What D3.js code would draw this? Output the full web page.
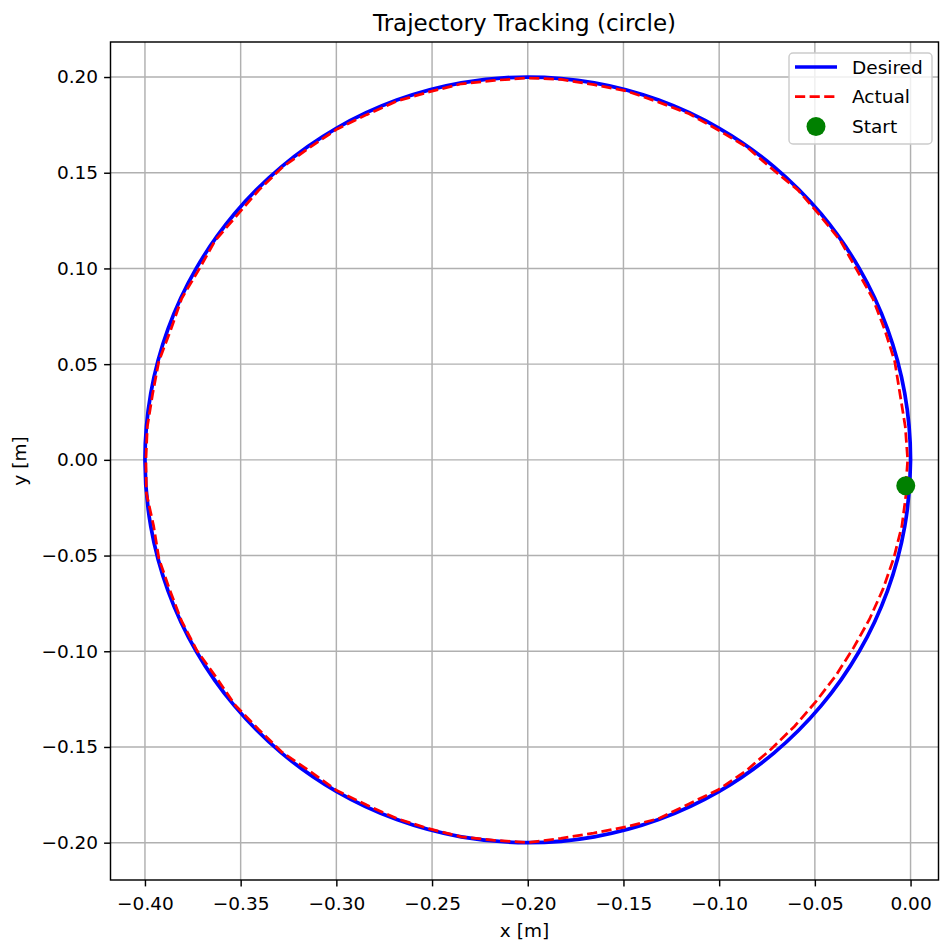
<!DOCTYPE html>
<html>
<head>
<meta charset="utf-8">
<script src="https://cdn.jsdelivr.net/npm/d3@7"></script>
<style>
  html, body { margin: 0; padding: 0; background: #ffffff; }
  svg { display: block; font-family: "DejaVu Sans", sans-serif; }
</style>
</head>
<body>
<svg id="chart" width="940" height="943"></svg>
<script>
// Reference circle (centre -0.2, 0; radius 0.2), sampled every 10 degrees
const desiredX = [0.0, -0.00304, -0.01206, -0.02679, -0.04679, -0.07144, -0.1, -0.1316, -0.16527,
  -0.2, -0.23473, -0.2684, -0.3, -0.32856, -0.35321, -0.37321, -0.38794, -0.39696,
  -0.4, -0.39696, -0.38794, -0.37321, -0.35321, -0.32856, -0.3, -0.2684, -0.23473,
  -0.2, -0.16527, -0.1316, -0.1, -0.07144, -0.04679, -0.02679, -0.01206, -0.00304];
const desiredY = [0.0, 0.03473, 0.0684, 0.1, 0.12856, 0.15321, 0.17321, 0.18794, 0.19696,
  0.2, 0.19696, 0.18794, 0.17321, 0.15321, 0.12856, 0.1, 0.0684, 0.03473,
  0.0, -0.03473, -0.0684, -0.1, -0.12856, -0.15321, -0.17321, -0.18794, -0.19696,
  -0.2, -0.19696, -0.18794, -0.17321, -0.15321, -0.12856, -0.1, -0.0684, -0.03473];

// Measured end-effector path
const actualX = [-0.00248, -0.0015, -0.00275, -0.0055, -0.00826, -0.01347, -0.01964, -0.02809, -0.03658,
  -0.04756, -0.05893, -0.07241, -0.08557, -0.1005, -0.11569, -0.13194, -0.14837, -0.16544, -0.18261,
  -0.2, -0.21734, -0.23464, -0.25151, -0.26823, -0.2841, -0.29975, -0.31414, -0.32824, -0.34071,
  -0.35206, -0.36342, -0.37191, -0.38081, -0.38653, -0.3927, -0.39598, -0.39874, -0.3995, -0.39924,
  -0.39548, -0.3927, -0.387, -0.38081, -0.37277, -0.3626, -0.35282, -0.34071, -0.32824, -0.31386,
  -0.29975, -0.2841, -0.26823, -0.25163, -0.23473, -0.21739, -0.2, -0.1827, -0.16562, -0.14862,
  -0.13177, -0.11611, -0.1005, -0.08614, -0.07305, -0.0607, -0.04947, -0.03904, -0.02983, -0.02146,
  -0.01441, -0.00875, -0.00452, -0.00226];
const actualY = [-0.01381, 0.0, 0.01726, 0.0343, 0.05138, 0.06789, 0.0841, 0.09925, 0.11443,
  0.12792, 0.14107, 0.15206, 0.16342, 0.17234, 0.18081, 0.187, 0.1927, 0.19598, 0.19874,
  0.1995, 0.19824, 0.19647, 0.19222, 0.18747, 0.18036, 0.17277, 0.16301, 0.15282, 0.14071,
  0.12759, 0.11443, 0.09925, 0.08431, 0.06789, 0.05163, 0.03456, 0.01739, 0.0, -0.01743,
  -0.03447, -0.05163, -0.06806, -0.08431, -0.09975, -0.11386, -0.12824, -0.14071, -0.15282, -0.1626,
  -0.17277, -0.18036, -0.18747, -0.1927, -0.19696, -0.19874, -0.2, -0.19774, -0.19499, -0.19174,
  -0.18747, -0.1799, -0.17234, -0.1626, -0.15129, -0.1393, -0.12631, -0.11271, -0.09825, -0.08326,
  -0.06755, -0.05125, -0.03447, -0.0173];

// First recorded position
const startX = [-0.0025];
const startY = [-0.0135];

const xTicks = [-0.40, -0.35, -0.30, -0.25, -0.20, -0.15, -0.10, -0.05, 0.00];
const yTicks = [-0.20, -0.15, -0.10, -0.05, 0.00, 0.05, 0.10, 0.15, 0.20];
const legendLabels = ["Desired", "Actual", "Start"];

const fmt = v => (v < -1e-9 ? "\u2212" : "") + Math.abs(v).toFixed(2);

const plot = { left: 110.5, right: 938.5, top: 42, bottom: 880 };

const x = d3.scaleLinear().domain([-0.418, 0.0146]).range([plot.left, plot.right]);
const y = d3.scaleLinear().domain([-0.2195, 0.2183]).range([plot.bottom, plot.top]);

const svg = d3.select("#chart");

svg.append("defs").append("clipPath").attr("id", "plot-clip")
  .append("rect")
  .attr("x", plot.left).attr("y", plot.top)
  .attr("width", plot.right - plot.left).attr("height", plot.bottom - plot.top);

// Grid
const grid = svg.append("g").attr("class", "grid");
grid.selectAll("line.gx").data(xTicks).join("line")
  .attr("class", "gx")
  .attr("x1", d => x(d)).attr("x2", d => x(d))
  .attr("y1", plot.top).attr("y2", plot.bottom)
  .attr("stroke", "#b0b0b0").attr("stroke-width", 1.45);
grid.selectAll("line.gy").data(yTicks).join("line")
  .attr("class", "gy")
  .attr("x1", plot.left).attr("x2", plot.right)
  .attr("y1", d => y(d)).attr("y2", d => y(d))
  .attr("stroke", "#b0b0b0").attr("stroke-width", 1.45);

// Curves
const lines = svg.append("g").attr("clip-path", "url(#plot-clip)");

const desired = desiredX.map((d, i) => [d, desiredY[i]]);
const actual = actualX.map((d, i) => [d, actualY[i]]);

lines.append("path")
  .datum(desired)
  .attr("fill", "none")
  .attr("stroke", "#0000ff")
  .attr("stroke-width", 3.7)
  .attr("d", d3.line().x(d => x(d[0])).y(d => y(d[1])).curve(d3.curveCatmullRomClosed));

lines.append("path")
  .datum(actual)
  .attr("fill", "none")
  .attr("stroke", "#ff0000")
  .attr("stroke-width", 2.75)
  .attr("stroke-dasharray", "10.2,4.4")
  .attr("d", d3.line().x(d => x(d[0])).y(d => y(d[1])));

lines.selectAll("circle.start").data(startX.map((d, i) => [d, startY[i]])).join("circle")
  .attr("class", "start")
  .attr("cx", d => x(d[0])).attr("cy", d => y(d[1]))
  .attr("r", 9.5)
  .attr("fill", "#008000");

// Axes
const xAxis = d3.axisBottom(x).tickValues(xTicks).tickFormat(fmt).tickSize(6.4).tickPadding(10.5);
const yAxis = d3.axisLeft(y).tickValues(yTicks).tickFormat(fmt).tickSize(6.4).tickPadding(6);

const gx = svg.append("g").attr("transform", `translate(0,${plot.bottom})`).call(xAxis);
const gy = svg.append("g").attr("transform", `translate(${plot.left},0)`).call(yAxis);
[gx, gy].forEach(g => {
  g.select(".domain").remove();
  g.selectAll(".tick line").attr("stroke", "#000").attr("stroke-width", 1.45);
  g.selectAll(".tick text").attr("fill", "#000")
    .style("font-size", "18.5px").style("font-family", "'DejaVu Sans', sans-serif");
});

// Frame
svg.append("rect")
  .attr("x", plot.left).attr("y", plot.top)
  .attr("width", plot.right - plot.left).attr("height", plot.bottom - plot.top)
  .attr("fill", "none").attr("stroke", "#000").attr("stroke-width", 1.45);

// Titles
const cx = (plot.left + plot.right) / 2;
svg.append("text")
  .attr("x", cx).attr("y", 31)
  .attr("text-anchor", "middle")
  .style("font-size", "23px")
  .text("Trajectory Tracking (circle)");

svg.append("text")
  .attr("x", cx).attr("y", 937)
  .attr("text-anchor", "middle")
  .style("font-size", "18.5px")
  .text("x [m]");

svg.append("text")
  .attr("transform", `translate(26,${(plot.top + plot.bottom) / 2}) rotate(-90)`)
  .attr("text-anchor", "middle")
  .style("font-size", "18.5px")
  .text("y [m]");

// Legend
const lg = svg.append("g").attr("transform", "translate(789,53)");
lg.append("rect")
  .attr("width", 143).attr("height", 91).attr("rx", 4)
  .attr("fill", "#ffffff").attr("fill-opacity", 0.8)
  .attr("stroke", "#cccccc").attr("stroke-width", 1.45);

const rowY = [14, 43.5, 73.5];
lg.append("line").attr("x1", 6).attr("x2", 48).attr("y1", rowY[0]).attr("y2", rowY[0])
  .attr("stroke", "#0000ff").attr("stroke-width", 3.7);
lg.append("line").attr("x1", 6).attr("x2", 48).attr("y1", rowY[1]).attr("y2", rowY[1])
  .attr("stroke", "#ff0000").attr("stroke-width", 2.75).attr("stroke-dasharray", "10.2,4.4");
lg.append("circle").attr("cx", 27).attr("cy", rowY[2]).attr("r", 9.5).attr("fill", "#008000");

lg.selectAll("text.lbl").data(legendLabels).join("text")
  .attr("class", "lbl")
  .attr("x", 63).attr("y", (d, i) => rowY[i])
  .attr("dy", "0.36em")
  .style("font-size", "18.5px")
  .text(d => d);
</script>
</body>
</html>
